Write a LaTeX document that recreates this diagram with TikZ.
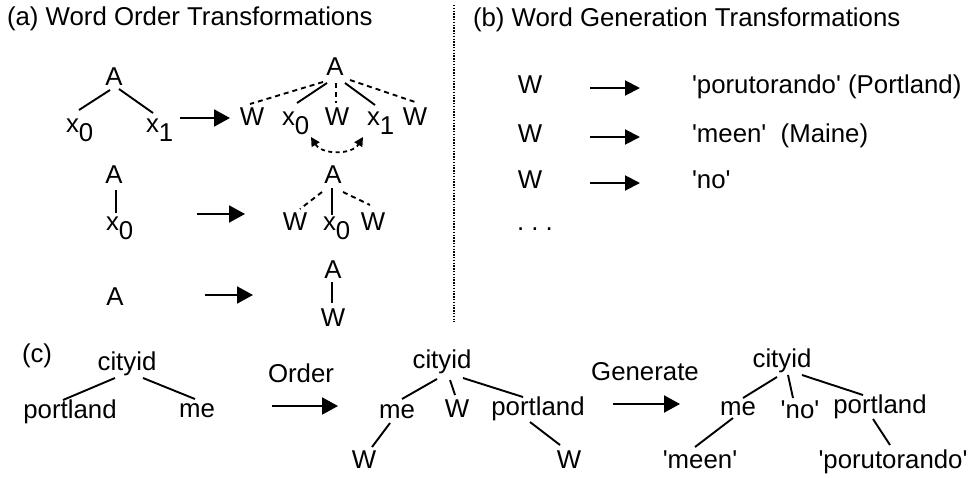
\documentclass[tikz,border=0pt]{standalone}
\usepackage{fontspec}
\newfontfamily\arial{Liberation Sans}
\usetikzlibrary{arrows.meta,calc}
\newcommand{\xsub}[1]{x\lower9pt\hbox{#1}}
\tikzset{
  lbl/.style={inner sep=0pt, outer sep=0pt, anchor=base, font=\arial\fontsize{25.8pt}{30pt}\selectfont},
  lblw/.style={lbl, anchor=base west},
  edge/.style={line width=1.9pt},
  dedge/.style={line width=1.9pt, dash pattern=on 5pt off 4pt},
  bigarrow/.style={line width=2pt, -{Triangle[length=16pt,width=17pt]}},
  midarrow/.style={line width=2pt, -{Triangle[length=15pt,width=15pt]}},
  sep/.style={line width=1.4pt, dash pattern=on 1.4pt off 1.4pt}
}
\begin{document}
\begin{tikzpicture}[x=1pt,y=-1pt]
\useasboundingbox (0,0) rectangle (972,477);
\fill[white] (0,0) rectangle (972,477);

% titles
\node[lblw] (ta) at (7,25) {(a) Word Order Transformations};
\node[lblw] (tb) at (473,26) {(b) Word Generation Transformations};

% separator
\coordinate (s1) at (454,5);
\coordinate (s2) at (454,322);
\draw[sep] (s1) -- (s2);

% ---- (a) row 1 ----
\node[lbl] (a1A) at (114,85) {A};
\node[lblw] (a1x0) at (66,132) {\xsub{0}};
\node[lblw] (a1x1) at (146,132) {\xsub{1}};
\draw[edge] ($(a1A.base)+(-4,5)$) -- ($(a1x0.base west)+(13,-22)$);
\draw[edge] ($(a1A.base)+(5,4)$) -- ($(a1x1.base west)+(7,-19)$);

\coordinate (ar1s) at (180,118);
\coordinate (ar1e) at (230,118);
\draw[bigarrow] (ar1s) -- (ar1e);

\node[lbl] (b1A) at (335,75) {A};
\node[lbl] (b1W1) at (252,125) {W};
\node[lblw] (b1x0) at (282,125) {\xsub{0}};
\node[lbl] (b1W2) at (337,125) {W};
\node[lblw] (b1x1) at (367,125) {\xsub{1}};
\node[lbl] (b1W3) at (415,125) {W};
\draw[dedge] ($(b1A.base)+(-12,7)$) -- ($(b1W1.base)+(-2,-21)$);
\draw[edge] ($(b1A.base)+(-8,8)$) -- ($(b1x0.base west)+(15,-22)$);
\draw[dedge] ($(b1A.base)+(1,8)$) -- ($(b1W2.base)+(-1,-22)$);
\draw[edge] ($(b1A.base)+(10,8)$) -- ($(b1x1.base west)+(8,-20)$);
\draw[dedge] ($(b1A.base)+(15,5)$) -- ($(b1W3.base)+(0,-23)$);

\coordinate (sw1) at (311,137);
\coordinate (sw2) at (363,137);
\draw[line width=1.8pt, dash pattern=on 4pt off 3.5pt, {Triangle[length=9pt,width=9pt]}-{Triangle[length=9pt,width=9pt]}]
  (sw1) .. controls (322,155) and (352,155) .. (sw2);

% ---- (a) row 2 ----
\node[lbl] (a2A) at (114,183) {A};
\node[lblw] (a2x0) at (106,230) {\xsub{0}};
\draw[edge] ($(a2A.base)+(2,7)$) -- ($(a2x0.base west)+(10,-17)$);

\coordinate (ar2s) at (197,214);
\coordinate (ar2e) at (245,214);
\draw[bigarrow] (ar2s) -- (ar2e);

\node[lbl] (b2A) at (333,183) {A};
\node[lbl] (b2Wl) at (295,230) {W};
\node[lblw] (b2x0) at (323,230) {\xsub{0}};
\node[lbl] (b2Wr) at (373,230) {W};
\draw[dedge] ($(b2A.base)+(-11,9)$) -- ($(b2Wl.base)+(5,-21)$);
\draw[edge] ($(b2A.base)+(-1,5)$) -- ($(b2x0.base west)+(9,-15)$);
\draw[dedge] ($(b2A.base)+(10,9)$) -- ($(b2Wr.base)+(-3,-25)$);

% ---- (a) row 3 ----
\node[lbl] (a3A) at (115,305) {A};
\coordinate (ar3s) at (205,295);
\coordinate (ar3e) at (253,295);
\draw[bigarrow] (ar3s) -- (ar3e);
\node[lbl] (b3A) at (333,278) {A};
\node[lbl] (b3W) at (333,326) {W};
\draw[edge] ($(b3A.base)+(-1,4)$) -- ($(b3W.base)+(-1,-23)$);

% ---- (b) ----
\node[lbl] (gW1) at (530,93) {W};
\node[lbl] (gW2) at (530,142) {W};
\node[lbl] (gW3) at (530,188) {W};
\coordinate (g1s) at (590,88);  \coordinate (g1e) at (640,88);
\coordinate (g2s) at (590,137); \coordinate (g2e) at (640,137);
\coordinate (g3s) at (590,183); \coordinate (g3e) at (640,183);
\draw[midarrow] (g1s) -- (g1e);
\draw[midarrow] (g2s) -- (g2e);
\draw[midarrow] (g3s) -- (g3e);
\node[lblw] (gt1) at (692,93) {'porutorando' (Portland)};
\node[lblw] (gt2) at (692,142) {'meen'\ \ (Maine)};
\node[lblw] (gt3) at (692,188) {'no'};
\node[lblw] (gdots) at (517,230) {.\ .\ .};

% ---- (c) ----
\node[lblw] (tc) at (22,362) {(c)};
\node[lbl] (c1root) at (127,370) {cityid};
\node[lbl] (c1p) at (70,418) {portland};
\node[lbl] (c1m) at (197,417) {me};
\draw[edge] ($(c1root.base)+(-12,8)$) -- ($(c1p.base)+(-7,-18)$);
\draw[edge] ($(c1root.base)+(16,8)$) -- ($(c1m.base)+(-2,-18)$);

\node[lbl] (order) at (301,382) {Order};
\coordinate (ocs) at (272,406);
\coordinate (oce) at (338,406);
\draw[bigarrow] (ocs) -- (oce);

\node[lbl] (c2root) at (442,368) {cityid};
\node[lbl] (c2m) at (397,418) {me};
\node[lbl] (c2W) at (457,417) {W};
\node[lbl] (c2p) at (538,415) {portland};
\node[lbl] (c2mW) at (364,468) {W};
\node[lbl] (c2pW) at (569,468) {W};
\draw[edge] ($(c2root.base)+(-5,11)$) -- ($(c2m.base)+(5,-19)$);
\draw[edge] ($(c2root.base)+(8,12)$) -- ($(c2W.base)+(-2,-22)$);
\draw[edge] ($(c2root.base)+(21,10)$) -- ($(c2p.base)+(-15,-18)$);
\draw[edge] ($(c2m.base)+(-7,5)$) -- ($(c2mW.base)+(8,-21)$);
\draw[edge] ($(c2p.base)+(-8,7)$) -- ($(c2pW.base)+(-9,-23)$);

\node[lbl] (gen) at (645,380) {Generate};
\coordinate (gcs) at (613,404);
\coordinate (gce) at (680,404);
\draw[bigarrow] (gcs) -- (gce);

\node[lbl] (c3root) at (782,367) {cityid};
\node[lbl] (c3m) at (738,415) {me};
\node[lbl] (c3no) at (800,418) {'no'};
\node[lbl] (c3p) at (880,413) {portland};
\node[lbl] (c3meen) at (700,468) {'meen'};
\node[lbl] (c3poru) at (893,468) {'porutorando'};
\draw[edge] ($(c3root.base)+(-5,10)$) -- ($(c3m.base)+(5,-17)$);
\draw[edge] ($(c3root.base)+(6,8)$) -- ($(c3no.base)+(-7,-20)$);
\draw[edge] ($(c3root.base)+(20,8)$) -- ($(c3p.base)+(-17,-18)$);
\draw[edge] ($(c3m.base)+(-5,3)$) -- ($(c3meen.base)+(-5,-21)$);
\draw[edge] ($(c3p.base)+(-7,6)$) -- ($(c3poru.base)+(-3,-23)$);
\end{tikzpicture}
\end{document}
